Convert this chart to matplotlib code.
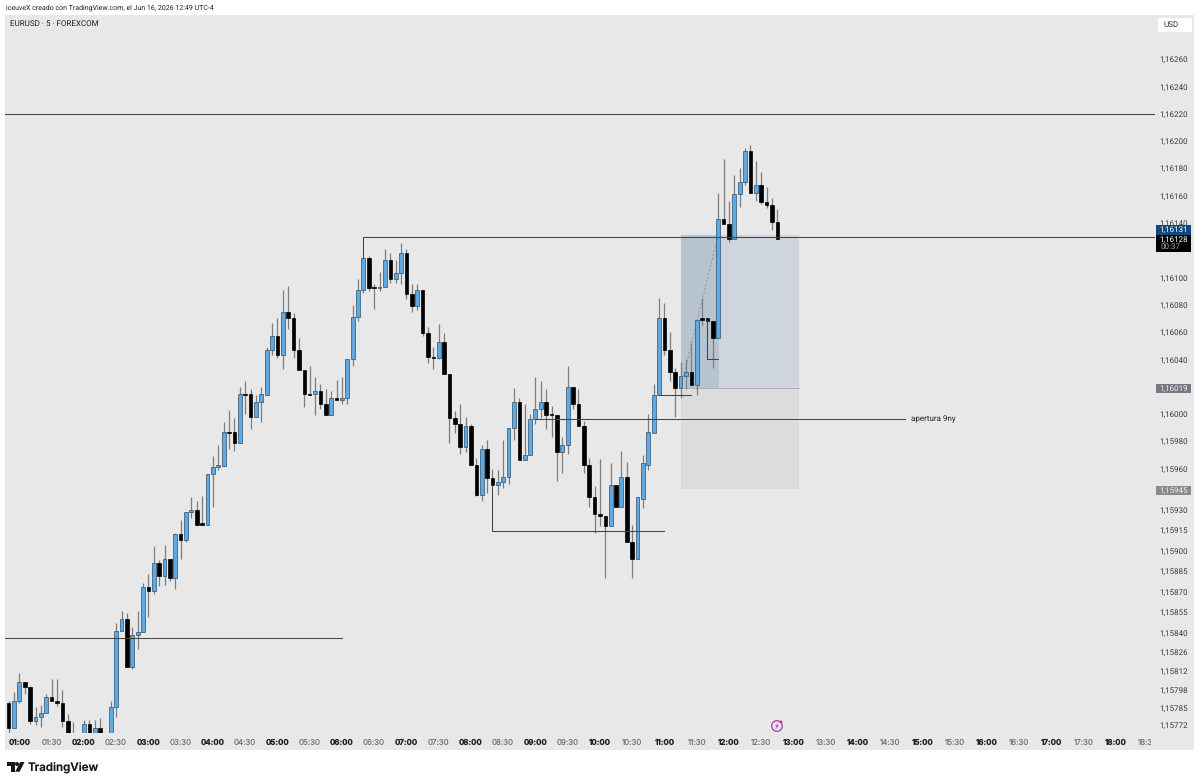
import numpy as np
import matplotlib
matplotlib.use('Agg')
import matplotlib.pyplot as plt
from matplotlib.patches import Rectangle, Circle, Polygon
from matplotlib.transforms import Bbox

plt.rcParams['text.hinting'] = 'no_hinting'
plt.rcParams['text.hinting_factor'] = 1

W, H = 1200, 784

# bar number 0 is the 01:00 candle, first candle on screen is 00:50
first_bar = -2

opens = [
    1.15788, 1.15770, 1.15790, 1.15804, 1.15800, 1.15775, 1.15778, 1.15781, 1.15793, 1.15790,
    1.15788, 1.15775, 1.15758, 1.15754, 1.15752, 1.15773, 1.15755, 1.15770, 1.15755, 1.15758,
    1.15785, 1.15841, 1.15850, 1.15815, 1.15838, 1.15840, 1.15873, 1.15870, 1.15891, 1.15881,
    1.15894, 1.15880, 1.15912, 1.15908, 1.15928, 1.15930, 1.15920, 1.15919, 1.15956, 1.15961,
    1.15962, 1.15987, 1.15987, 1.15979, 1.16015, 1.16015, 1.15998, 1.16009, 1.16014, 1.16047,
    1.16057, 1.16043, 1.16075, 1.16070, 1.16047, 1.16032, 1.16015, 1.16015, 1.16017, 1.16007,
    1.15999, 1.16012, 1.16010, 1.16012, 1.16040, 1.16071, 1.16091, 1.16114, 1.16093, 1.16092,
    1.16093, 1.16113, 1.16099, 1.16103, 1.16118, 1.16088, 1.16079, 1.16091, 1.16059, 1.16042,
    1.16041, 1.16053, 1.16029, 1.15997, 1.15993, 1.15976, 1.15991, 1.15963, 1.15941, 1.15974,
    1.15953, 1.15948, 1.15950, 1.15954, 1.15990, 1.16009, 1.15966, 1.15970, 1.15996, 1.16004,
    1.16009, 1.16000, 1.15999, 1.15972, 1.15977, 1.16020, 1.16007, 1.15991, 1.15963, 1.15939,
    1.15927, 1.15925, 1.15918, 1.15948, 1.15932, 1.15954, 1.15906, 1.15894, 1.15938, 1.15963,
    1.15986, 1.16014, 1.16070, 1.16047, 1.16031, 1.16019, 1.16028, 1.16031, 1.16021, 1.16070,
    1.16070, 1.16068, 1.16056, 1.16143, 1.16139, 1.16128, 1.16161, 1.16170, 1.16193, 1.16162,
    1.16168, 1.16155, 1.16153, 1.16141,
]
highs = [
    1.15790, 1.15796, 1.15810, 1.15804, 1.15801, 1.15785, 1.15787, 1.15795, 1.15806, 1.15806,
    1.15798, 1.15780, 1.15774, 1.15760, 1.15776, 1.15776, 1.15776, 1.15777, 1.15762, 1.15790,
    1.15847, 1.15856, 1.15854, 1.15844, 1.15856, 1.15876, 1.15883, 1.15903, 1.15893, 1.15904,
    1.15894, 1.15913, 1.15922, 1.15928, 1.15939, 1.15936, 1.15940, 1.15956, 1.15969, 1.15977,
    1.15994, 1.16003, 1.15997, 1.16020, 1.16024, 1.16018, 1.16014, 1.16020, 1.16049, 1.16067,
    1.16070, 1.16091, 1.16094, 1.16074, 1.16056, 1.16032, 1.16035, 1.16027, 1.16022, 1.16018,
    1.16017, 1.16025, 1.16027, 1.16040, 1.16080, 1.16099, 1.16114, 1.16116, 1.16095, 1.16104,
    1.16121, 1.16118, 1.16113, 1.16125, 1.16121, 1.16095, 1.16095, 1.16091, 1.16064, 1.16049,
    1.16066, 1.16059, 1.16029, 1.16002, 1.16007, 1.15998, 1.15993, 1.15968, 1.15977, 1.15981,
    1.15960, 1.15959, 1.15981, 1.15990, 1.16019, 1.16012, 1.16007, 1.16000, 1.16027, 1.16024,
    1.16018, 1.16006, 1.15999, 1.15983, 1.16035, 1.16020, 1.16018, 1.15995, 1.15968, 1.15947,
    1.15967, 1.15925, 1.15964, 1.15948, 1.15973, 1.15965, 1.15919, 1.15939, 1.15970, 1.16000,
    1.16022, 1.16085, 1.16081, 1.16060, 1.16034, 1.16038, 1.16040, 1.16052, 1.16069, 1.16085,
    1.16070, 1.16068, 1.16162, 1.16187, 1.16156, 1.16175, 1.16180, 1.16195, 1.16197, 1.16185,
    1.16177, 1.16166, 1.16158, 1.16150,
]
lows = [
    1.15764, 1.15770, 1.15788, 1.15795, 1.15773, 1.15772, 1.15771, 1.15781, 1.15790, 1.15786,
    1.15771, 1.15755, 1.15750, 1.15745, 1.15748, 1.15750, 1.15750, 1.15750, 1.15745, 1.15752,
    1.15778, 1.15841, 1.15815, 1.15813, 1.15828, 1.15840, 1.15851, 1.15868, 1.15874, 1.15875,
    1.15878, 1.15872, 1.15894, 1.15906, 1.15924, 1.15919, 1.15919, 1.15919, 1.15932, 1.15959,
    1.15962, 1.15974, 1.15973, 1.15979, 1.16000, 1.15989, 1.15998, 1.15994, 1.16014, 1.16043,
    1.16041, 1.16033, 1.16062, 1.16041, 1.16032, 1.16005, 1.16014, 1.15999, 1.16004, 1.15999,
    1.15999, 1.16010, 1.16007, 1.16007, 1.16035, 1.16068, 1.16089, 1.16090, 1.16077, 1.16090,
    1.16093, 1.16096, 1.16096, 1.16095, 1.16084, 1.16075, 1.16076, 1.16057, 1.16037, 1.16033,
    1.16040, 1.16029, 1.15979, 1.15986, 1.15971, 1.15972, 1.15963, 1.15940, 1.15936, 1.15942,
    1.15948, 1.15941, 1.15946, 1.15949, 1.15981, 1.15966, 1.15966, 1.15970, 1.15993, 1.15997,
    1.15989, 1.15983, 1.15951, 1.15957, 1.15971, 1.16004, 1.15991, 1.15957, 1.15932, 1.15913,
    1.15918, 1.15880, 1.15918, 1.15932, 1.15932, 1.15906, 1.15880, 1.15894, 1.15931, 1.15959,
    1.15986, 1.16014, 1.16043, 1.16024, 1.15998, 1.16012, 1.16018, 1.16021, 1.16014, 1.16065,
    1.16068, 1.16034, 1.16056, 1.16139, 1.16126, 1.16128, 1.16152, 1.16168, 1.16162, 1.16156,
    1.16154, 1.16151, 1.16135, 1.16128,
]
closes = [
    1.15770, 1.15790, 1.15804, 1.15800, 1.15775, 1.15778, 1.15781, 1.15793, 1.15790, 1.15788,
    1.15775, 1.15758, 1.15754, 1.15752, 1.15773, 1.15755, 1.15770, 1.15755, 1.15758, 1.15785,
    1.15841, 1.15850, 1.15815, 1.15838, 1.15840, 1.15873, 1.15870, 1.15891, 1.15881, 1.15894,
    1.15880, 1.15912, 1.15908, 1.15928, 1.15930, 1.15919, 1.15919, 1.15956, 1.15961, 1.15963,
    1.15987, 1.15986, 1.15979, 1.16015, 1.16014, 1.15998, 1.16009, 1.16015, 1.16047, 1.16057,
    1.16043, 1.16075, 1.16070, 1.16047, 1.16032, 1.16015, 1.16014, 1.16017, 1.16007, 1.15999,
    1.16012, 1.16010, 1.16012, 1.16040, 1.16071, 1.16091, 1.16114, 1.16092, 1.16092, 1.16093,
    1.16113, 1.16099, 1.16103, 1.16118, 1.16088, 1.16079, 1.16091, 1.16059, 1.16042, 1.16041,
    1.16053, 1.16029, 1.15997, 1.15993, 1.15976, 1.15991, 1.15963, 1.15941, 1.15974, 1.15953,
    1.15948, 1.15950, 1.15954, 1.15990, 1.16009, 1.15966, 1.15970, 1.15996, 1.16004, 1.16009,
    1.15999, 1.15999, 1.15972, 1.15977, 1.16020, 1.16007, 1.15991, 1.15963, 1.15939, 1.15927,
    1.15925, 1.15918, 1.15948, 1.15932, 1.15954, 1.15906, 1.15894, 1.15939, 1.15964, 1.15987,
    1.16014, 1.16070, 1.16047, 1.16031, 1.16019, 1.16028, 1.16031, 1.16021, 1.16069, 1.16069,
    1.16068, 1.16056, 1.16143, 1.16139, 1.16128, 1.16161, 1.16170, 1.16193, 1.16162, 1.16168,
    1.16155, 1.16153, 1.16141, 1.16128,
]

price_ticks = [1.16260, 1.16240, 1.16220, 1.16200, 1.16180, 1.16160, 1.16140,
               1.16100, 1.16080, 1.16060, 1.16040, 1.16000, 1.15980, 1.15960, 1.15930, 1.15915,
               1.15900, 1.15885, 1.15870, 1.15855, 1.15840, 1.15826, 1.15812, 1.15798, 1.15785,
               1.15772]

time_labels = ['01:00', '01:30', '02:00', '02:30', '03:00', '03:30', '04:00', '04:30', '05:00',
               '05:30', '06:00', '06:30', '07:00', '07:30', '08:00', '08:30', '09:00', '09:30',
               '10:00', '10:30', '11:00', '11:30', '12:00', '12:30', '13:00', '13:30', '14:00',
               '14:30', '15:00', '15:30', '16:00', '16:30', '17:00', '17:30', '18:00', '18:30']

# drawn levels
full_level = 1.16220
last_level = 1.16130
low_level = 1.15836
open_level = 1.15996
sweep_level = 1.15914
small_level_a = 1.16014
small_level_b = 1.16040

# long position tool
entry_price = 1.16019
target_price = 1.16131
stop_price = 1.15945

BG = '#e8e8e8'
BLUE = '#5fa9e0'
EDGE = '#2a5173'
LINE = '#444444'
FONT = ['Roboto', 'DejaVu Sans']
BOLD_FONT = ['Inter', 'DejaVu Sans']


def px_x(x):
    return (x - 19.4) / 5.375


def price_y(y):
    return 1.16 + (414 - y) / 136500


fig = plt.figure(figsize=(W / 100, H / 100), dpi=100, facecolor='white')

# whole figure in pixels, y going down, for the panel and labels
back = fig.add_axes([0, 0, 1, 1], zorder=0)
back.set_xlim(0, W)
back.set_ylim(H, 0)
back.axis('off')
back.add_patch(Rectangle((5, 15), 1189, 735, color=BG, lw=0))

ax = fig.add_axes([5 / W, 1 - 733 / H, 1150 / W, 718 / H], zorder=1)
ax.patch.set_alpha(0)
ax.set_xlim(px_x(5), px_x(1155))
ax.set_ylim(price_y(733), price_y(15))
for s in ax.spines.values():
    s.set_visible(False)

# position tool
ax.add_patch(Rectangle((123, entry_price), 22.1, target_price - entry_price, color='#cfd5de', lw=0, zorder=1))
ax.add_patch(Rectangle((123, entry_price), 7.1, target_price - entry_price, color='#b8c3d0', lw=0, zorder=1.1))
ax.add_patch(Rectangle((123, stop_price), 22.1, entry_price - stop_price, color='#dcdcdc', lw=0, zorder=1))
ax.plot([123, 145.1], [entry_price, entry_price], color='#a9aeb5', lw=0.7, zorder=1.2)
ax.plot([123, 130], [entry_price, target_price], color='#8d949c', lw=0.7, ls=(0, (2, 2)), zorder=1.2)

# candles
bars = np.arange(first_bar, first_bar + len(opens))
o = np.array(opens)
h = np.array(highs)
l = np.array(lows)
c = np.array(closes)
up = c >= o
ax.vlines(bars, l, h, color='#7d7d7d', lw=0.9, zorder=2)
ax.bar(bars[up], (c - o)[up], bottom=o[up], width=0.72, color=BLUE, edgecolor=EDGE, lw=0.5, zorder=3)
ax.bar(bars[~up], (c - o)[~up], bottom=o[~up], width=0.66, color='black', edgecolor='black', lw=0.5, zorder=3)

# drawn lines
ax.plot([px_x(5), px_x(1155)], [full_level, full_level], color=LINE, lw=0.75, zorder=4)
ax.plot([64, 64, px_x(1155)], [1.16114, last_level, last_level], color=LINE, lw=0.75, zorder=4)
ax.plot([px_x(5), 60], [low_level, low_level], color=LINE, lw=0.75, zorder=4)
ax.plot([96, 164.7], [open_level, open_level], color=LINE, lw=0.75, zorder=4)
ax.plot([88, 88, 120], [1.15948, sweep_level, sweep_level], color=LINE, lw=0.75, zorder=4)
ax.plot([119, 125], [small_level_a, small_level_a], color=LINE, lw=0.75, zorder=4)
ax.plot([128, 128, 130], [1.16069, small_level_b, small_level_b], color=LINE, lw=0.75, zorder=4)
ax.text(165.9, open_level, 'apertura 9ny', fontsize=5.5, family=FONT, color='#222222', va='center', zorder=5)

# price scale
ax.yaxis.tick_right()
ax.set_yticks(price_ticks)
ax.set_yticklabels([('%.5f' % p).replace('.', ',') for p in price_ticks], fontsize=5.8, family=FONT, color='#3a3a3a')
ax.tick_params(axis='y', length=0, pad=3)

# time scale, one label every 6 bars, full hours bold
ax.set_xticks(np.arange(len(time_labels)) * 6)
ax.set_xticklabels(time_labels, fontsize=5.7, family=BOLD_FONT)
ax.tick_params(axis='x', length=0, pad=4)
clip = Bbox.from_extents(0, 0, 1151, H)
for n, lab in enumerate(ax.get_xticklabels()):
    if n % 2 == 0:
        lab.set_fontweight('bold')
        lab.set_color('#222222')
    else:
        lab.set_color('#777777')
    lab.set_clip_on(True)
    lab.set_clip_box(clip)

# everything above the scale labels, in pixels
top = fig.add_axes([0, 0, 1, 1], zorder=2)
top.set_xlim(0, W)
top.set_ylim(H, 0)
top.axis('off')
top.patch.set_alpha(0)

top.text(6, 8, 'iceuveX creado con TradingView.com, el Jun 16, 2026 12:49 UTC-4', fontsize=5.4,
         family=FONT, color='#222222', va='center')
top.text(10, 24, 'EURUSD · 5 · FOREXCOM', fontsize=5.5, family=FONT, color='#222222', va='center')

top.add_patch(Rectangle((1158, 18), 34, 14, color='white', lw=0))
top.text(1163, 25, 'USD', fontsize=5.5, family=FONT, color='#333333', va='center')

top.add_patch(Rectangle((1156, 225), 35, 9.7, color='#0f4a7a', lw=0))
top.add_patch(Rectangle((1156, 234.7), 35, 17.3, color='black', lw=0))
top.text(1173.5, 229.8, '1,16131', fontsize=5.8, family=FONT, color='white', ha='center', va='center')
top.text(1173.5, 239.5, '1,16128', fontsize=5.8, family=FONT, color='white', ha='center', va='center')
top.text(1161, 247, '00:37', fontsize=5.8, family=FONT, color='#aaaaaa', va='center')

top.add_patch(Rectangle((1156, 384), 35, 9.3, color='#787882', lw=0))
top.text(1173.5, 388.6, '1,16019', fontsize=5.8, family=FONT, color='#eeeeee', ha='center', va='center')
top.add_patch(Rectangle((1156, 485.7), 35, 9.3, color='#8a8a8a', lw=0))
top.text(1173.5, 490.3, '1,15945', fontsize=5.8, family=FONT, color='#eeeeee', ha='center', va='center')

# lightning mark on the time scale
top.add_patch(Circle((777, 726), 5.3, facecolor='#ece6ee', edgecolor='#a23cb4', lw=0.9))
top.add_patch(Polygon([(778.5, 722.5), (775, 726.5), (777, 726.5), (775.5, 729.5), (779, 725.5), (777, 725.5)],
                      color='#a23cb4', lw=0))
top.add_patch(Circle((781, 722), 1.4, color='#d8285a', lw=0))

# TradingView logo
top.add_patch(Polygon([(7, 762), (14.7, 762), (14.7, 771.7), (10.6, 771.7), (10.6, 765.8), (7, 765.8)],
                      color='#131722', lw=0))
top.add_patch(Circle((17, 764), 2, color='#131722', lw=0))
top.add_patch(Polygon([(20.2, 762), (24.5, 762), (19.6, 771.7), (15.2, 771.7)], color='#131722', lw=0))
top.text(28, 766.8, 'TradingView', fontsize=8.3, family=BOLD_FONT, fontweight='semibold', color='#131722', va='center')

fig.savefig('out.png', dpi=100, facecolor='white')
